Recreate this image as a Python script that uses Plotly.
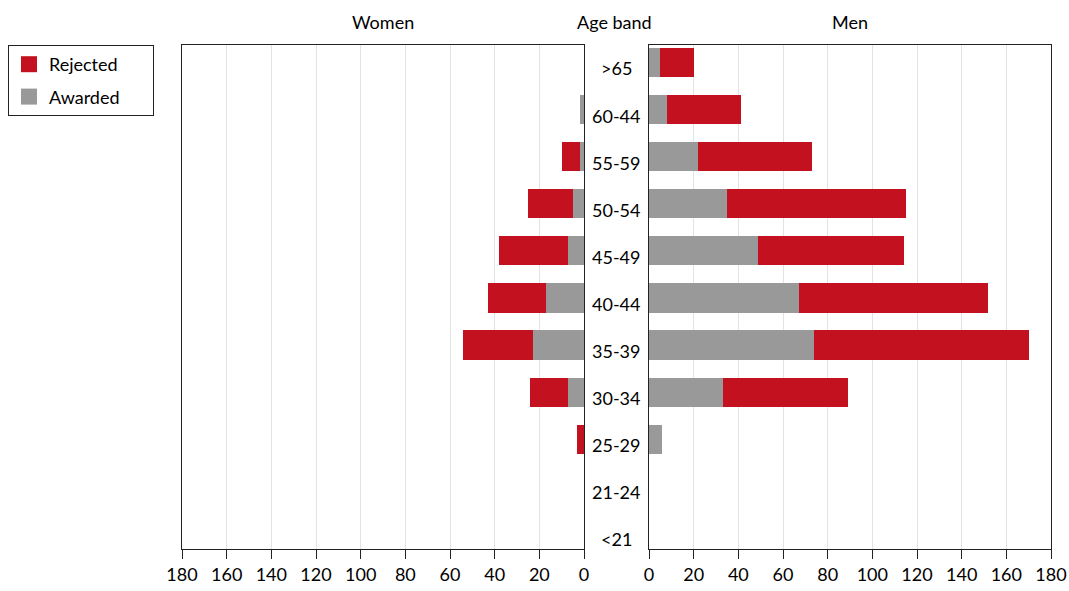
import plotly.graph_objects as go

age_bands = ['<21', '21-24', '25-29', '30-34', '35-39', '40-44', '45-49', '50-54', '55-59', '60-44', '>65']
women_awarded = [0, 0, 0, 7, 23, 17, 7, 5, 2, 2, 0]
women_rejected = [0, 0, 3, 17, 31, 26, 31, 20, 8, 0, 0]
men_awarded = [0, 0, 6, 33, 74, 67, 49, 35, 22, 8, 5]
men_rejected = [0, 0, 0, 56, 96, 85, 65, 80, 51, 33, 15]
tick_vals = [0, 20, 40, 60, 80, 100, 120, 140, 160, 180]
legend_names = ['Rejected', 'Awarded']

RED = '#C4111F'
GRAY = '#999999'
FONT = 'Lato, "Open Sans", sans-serif'
W, H = 1069, 591

fig = go.Figure()
for xs, color, xa, ya in [(women_awarded, GRAY, 'x', 'y'), (women_rejected, RED, 'x', 'y'),
                          (men_awarded, GRAY, 'x2', 'y2'), (men_rejected, RED, 'x2', 'y2')]:
    fig.add_trace(go.Bar(y=age_bands, x=xs, orientation='h',
                         marker=dict(color=color, line=dict(width=0)),
                         xaxis=xa, yaxis=ya, showlegend=False, hoverinfo='x+y'))

# legend entries
for name, color in zip(legend_names, [RED, GRAY]):
    fig.add_trace(go.Scatter(x=[None], y=[None], mode='markers',
                             name=name + '\u00a0\u00a0\u00a0\u00a0\u00a0\u00a0',
                             marker=dict(symbol='square', size=18, color=color, line=dict(width=0)),
                             xaxis='x2', yaxis='y2', showlegend=True, legendgroup=name))

axis_common = dict(showgrid=True, gridcolor='#e3e3e3', gridwidth=1, showline=True,
                   linecolor='#222222', linewidth=1, mirror=True, ticks='outside',
                   ticklen=9, tickcolor='#222222', tickvals=tick_vals,
                   tickfont=dict(size=18, color='black', family=FONT), zeroline=False,
                   fixedrange=True, automargin=False)
y_common = dict(domain=[0, 1], showticklabels=False, ticks='', showgrid=False,
                showline=True, linecolor='#222222', mirror=True, automargin=False,
                zeroline=False, type='category', categoryorder='array',
                categoryarray=age_bands, range=[-0.33, 10.37], fixedrange=True)

fig.update_layout(
    template='none',
    width=W, height=H,
    margin=dict(l=0, r=0, t=45, b=42, autoexpand=False),
    paper_bgcolor='white', plot_bgcolor='white',
    barmode='stack', bargap=0.38,
    font=dict(family=FONT, size=18, color='black'),
    xaxis=dict(domain=[182 / W, 584 / W], range=[180, 0], anchor='y', **axis_common),
    xaxis2=dict(domain=[649 / W, 1051 / W], range=[0, 180], anchor='y2', **axis_common),
    yaxis=dict(anchor='x', **y_common),
    yaxis2=dict(anchor='x2', **y_common),
    legend=dict(x=8 / W, y=1, xanchor='left', yanchor='top', xref='paper', yref='paper',
                bordercolor='#222222', borderwidth=1, bgcolor='white',
                font=dict(size=18, color='black', family=FONT),
                traceorder='grouped', tracegroupgap=6, itemsizing='trace'),
    showlegend=True,
)

for band in age_bands:
    fig.add_annotation(x=616 / W, xref='paper', y=band, yref='y', text=band,
                       showarrow=False, xanchor='center', yanchor='middle', yshift=-6,
                       font=dict(size=18, color='black', family=FONT))

for txt, xp in [('Women', 383), ('Age band', 614), ('Men', 850)]:
    fig.add_annotation(x=xp / W, xref='paper', y=1, yref='paper', yanchor='middle',
                       yshift=23, text=txt, showarrow=False, xanchor='center',
                       font=dict(size=18, color='black', family=FONT))

fig.write_html('out.html', config={'displayModeBar': False},
               post_script="document.body.style.margin='0px';")
